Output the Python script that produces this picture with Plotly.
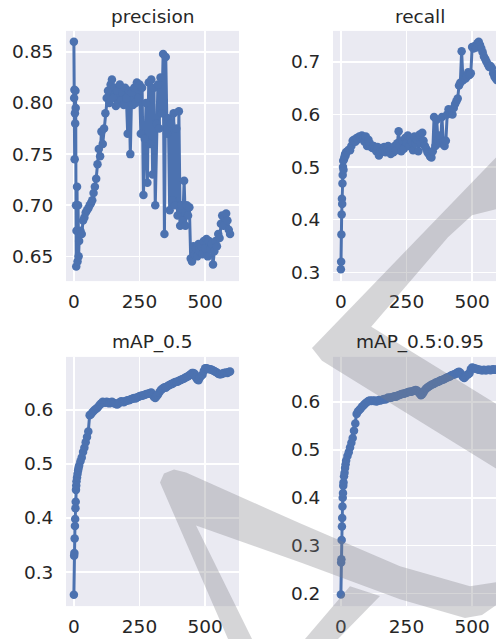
import plotly.graph_objects as go

W, H = 496, 641

epochs = [0, 1, 2, 3, 4, 5, 6, 7, 8, 9, 10, 12, 14, 16, 18, 20,
          25, 30, 35, 40, 45, 50, 55, 60, 65, 70, 75, 80, 85, 90, 95, 100,
          105, 110, 115, 120, 125, 130, 135, 140, 145, 150, 155, 160, 165, 170, 175, 180,
          185, 190, 195, 200, 205, 210, 215, 220, 225, 230, 235, 240, 245, 250, 255, 260,
          265, 270, 275, 280, 285, 290, 295, 300, 305, 310, 315, 320, 325, 330, 335, 340,
          345, 350, 355, 360, 365, 370, 375, 380, 385, 390, 395, 400, 405, 410, 415, 420,
          425, 430, 435, 440, 445, 450, 455, 460, 465, 470, 475, 480, 485, 490, 495, 500,
          505, 510, 515, 520, 525, 530, 535, 540, 545, 550, 555, 560, 565, 570, 575, 580,
          585, 590, 595]

precision = [0.860, 0.805, 0.813, 0.745, 0.790, 0.780, 0.812, 0.795, 0.700, 0.640, 0.675, 0.718, 0.645, 0.700, 0.650, 0.665,
             0.675, 0.672, 0.685, 0.688, 0.693, 0.695, 0.697, 0.700, 0.702, 0.705, 0.712, 0.718, 0.726, 0.740, 0.755, 0.748,
             0.772, 0.760, 0.775, 0.790, 0.805, 0.812, 0.800, 0.818, 0.823, 0.805, 0.815, 0.797, 0.812, 0.800, 0.818, 0.803,
             0.810, 0.798, 0.815, 0.805, 0.770, 0.812, 0.750, 0.810, 0.798, 0.815, 0.800, 0.820, 0.805, 0.818, 0.770, 0.815,
             0.710, 0.765, 0.800, 0.722, 0.820, 0.760, 0.823, 0.730, 0.815, 0.700, 0.780, 0.818, 0.775, 0.825, 0.790, 0.848,
             0.672, 0.845, 0.770, 0.785, 0.695, 0.780, 0.705, 0.790, 0.700, 0.775, 0.690, 0.792, 0.680, 0.700, 0.685, 0.724,
             0.680, 0.700, 0.690, 0.698, 0.648, 0.645, 0.660, 0.652, 0.658, 0.650, 0.662, 0.655, 0.660, 0.652, 0.665, 0.658,
             0.667, 0.650, 0.665, 0.657, 0.662, 0.642, 0.655, 0.665, 0.660, 0.672, 0.668, 0.682, 0.690, 0.680, 0.688, 0.692,
             0.685, 0.676, 0.672]

recall = [0.306, 0.320, 0.372, 0.410, 0.440, 0.430, 0.469, 0.485, 0.500, 0.512, 0.495, 0.515, 0.520, 0.525, 0.522, 0.528,
          0.530, 0.533, 0.532, 0.540, 0.550, 0.552, 0.548, 0.555, 0.553, 0.558, 0.556, 0.560, 0.555, 0.548, 0.558, 0.540,
          0.552, 0.545, 0.538, 0.536, 0.540, 0.535, 0.530, 0.538, 0.522, 0.530, 0.536, 0.532, 0.538, 0.528, 0.535, 0.540,
          0.530, 0.525, 0.535, 0.528, 0.540, 0.532, 0.545, 0.568, 0.540, 0.530, 0.550, 0.535, 0.555, 0.545, 0.560, 0.540,
          0.555, 0.548, 0.532, 0.558, 0.545, 0.552, 0.530, 0.562, 0.545, 0.565, 0.550, 0.540, 0.535, 0.528, 0.525, 0.520,
          0.518, 0.530, 0.595, 0.540, 0.590, 0.550, 0.560, 0.545, 0.595, 0.548, 0.540, 0.550, 0.600, 0.610, 0.605, 0.608,
          0.600, 0.612, 0.620, 0.625, 0.630, 0.655, 0.660, 0.720, 0.665, 0.670, 0.668, 0.672, 0.680, 0.675, 0.678, 0.728,
          0.725, 0.730, 0.727, 0.735, 0.738, 0.732, 0.725, 0.718, 0.710, 0.705, 0.700, 0.695, 0.690, 0.692, 0.688, 0.678,
          0.672, 0.668, 0.665]

map50 = [0.258, 0.330, 0.335, 0.362, 0.385, 0.398, 0.418, 0.430, 0.452, 0.460, 0.468, 0.475, 0.482, 0.488, 0.493, 0.497,
         0.505, 0.512, 0.522, 0.530, 0.540, 0.550, 0.560, 0.590, 0.592, 0.595, 0.598, 0.600, 0.602, 0.604, 0.607, 0.610,
         0.612, 0.615, 0.614, 0.613, 0.615, 0.614, 0.612, 0.613, 0.615, 0.613, 0.612, 0.611, 0.610, 0.612, 0.614, 0.616,
         0.615, 0.614, 0.616, 0.617, 0.618, 0.618, 0.619, 0.620, 0.621, 0.622, 0.621, 0.623, 0.624, 0.625, 0.626, 0.626,
         0.627, 0.628, 0.629, 0.630, 0.630, 0.631, 0.632, 0.628, 0.624, 0.622, 0.625, 0.628, 0.632, 0.636, 0.638, 0.640,
         0.642, 0.641, 0.643, 0.645, 0.646, 0.648, 0.648, 0.650, 0.651, 0.652, 0.652, 0.654, 0.655, 0.656, 0.657, 0.658,
         0.660, 0.661, 0.662, 0.664, 0.666, 0.668, 0.668, 0.667, 0.660, 0.656, 0.655, 0.660, 0.663, 0.665, 0.672, 0.677,
         0.677, 0.676, 0.675, 0.675, 0.674, 0.673, 0.672, 0.670, 0.669, 0.667, 0.666, 0.666, 0.667, 0.668, 0.668, 0.669,
         0.668, 0.670, 0.671]

map5095 = [0.198, 0.265, 0.272, 0.312, 0.340, 0.358, 0.382, 0.400, 0.410, 0.425, 0.432, 0.445, 0.452, 0.462, 0.470, 0.478,
           0.487, 0.495, 0.505, 0.515, 0.525, 0.540, 0.555, 0.575, 0.580, 0.583, 0.586, 0.590, 0.592, 0.595, 0.598, 0.600,
           0.602, 0.603, 0.602, 0.603, 0.602, 0.603, 0.601, 0.602, 0.604, 0.603, 0.604, 0.605, 0.606, 0.605, 0.607, 0.609,
           0.608, 0.609, 0.610, 0.611, 0.612, 0.611, 0.613, 0.614, 0.615, 0.616, 0.617, 0.617, 0.618, 0.619, 0.620, 0.621,
           0.621, 0.622, 0.623, 0.624, 0.625, 0.624, 0.621, 0.617, 0.614, 0.616, 0.620, 0.625, 0.628, 0.630, 0.632, 0.634,
           0.636, 0.637, 0.638, 0.640, 0.641, 0.642, 0.643, 0.645, 0.646, 0.647, 0.648, 0.650, 0.651, 0.652, 0.653, 0.655,
           0.656, 0.657, 0.658, 0.660, 0.662, 0.663, 0.661, 0.656, 0.652, 0.650, 0.653, 0.656, 0.658, 0.660, 0.668, 0.672,
           0.671, 0.670, 0.669, 0.668, 0.667, 0.667, 0.666, 0.666, 0.667, 0.666, 0.666, 0.667, 0.667, 0.666, 0.667, 0.668,
           0.667, 0.667, 0.668]

titles = ["precision", "recall", "mAP_0.5", "mAP_0.5:0.95"]
series = [precision, recall, map50, map5095]
x_ticks = [0, 250, 500]
y_ticks = [[0.65, 0.70, 0.75, 0.80, 0.85], [0.3, 0.4, 0.5, 0.6, 0.7],
           [0.3, 0.4, 0.5, 0.6], [0.2, 0.3, 0.4, 0.5, 0.6]]
y_fmt = [".2f", ".1f", ".1f", ".1f"]
y_ranges = [[0.6258, 0.8705], [0.2834, 0.7586], [0.237, 0.698], [0.174, 0.694]]

for s in series:
    assert len(s) == len(epochs)

BLUE = "#4C72B0"
TXT = "#262626"
FONT = "DejaVu Sans"
FS = 18.5

# layout geometry in pixels
col_px = [(66, 239), (333, 506)]
row_px = [(31, 282), (358, 608)]
x_full = [-30, 629]

fig = go.Figure()
layout = dict(width=W, height=H, margin=dict(l=0, r=0, t=0, b=0),
              paper_bgcolor="white", plot_bgcolor="#EAEAF2", showlegend=False,
              font=dict(family=FONT, size=FS, color=TXT))
annotations = []
for i, (title, vals) in enumerate(zip(titles, series)):
    r, c = divmod(i, 2)
    n = "" if i == 0 else str(i + 1)
    x0, x1 = col_px[c]
    y0, y1 = row_px[r]
    vis_x1 = min(x1, W)
    span = x_full[1] - x_full[0]
    xr = [x_full[0], x_full[0] + span * (vis_x1 - x0) / (x1 - x0)]
    fig.add_trace(go.Scatter(x=epochs, y=vals, mode="lines+markers",
                             line=dict(color=BLUE, width=3),
                             marker=dict(color=BLUE, size=8.5),
                             xaxis="x" + n, yaxis="y" + n, cliponaxis=True))
    layout["xaxis" + n] = dict(domain=[x0 / W, vis_x1 / W], range=xr, anchor="y" + n,
                               tickvals=x_ticks, showgrid=True, gridcolor="white", gridwidth=1.5,
                               zeroline=False, showline=False, ticks="outside", ticklen=4,
                               tickcolor="rgba(0,0,0,0)", tickfont=dict(size=FS, color=TXT))
    layout["yaxis" + n] = dict(domain=[1 - y1 / H, 1 - y0 / H], range=y_ranges[i], anchor="x" + n,
                               tickvals=y_ticks[i], tickformat=y_fmt[i], showgrid=True,
                               gridcolor="white", gridwidth=1.5, zeroline=False, showline=False,
                               ticks="outside", ticklen=8, tickcolor="rgba(0,0,0,0)",
                               tickfont=dict(size=FS, color=TXT))
    annotations.append(dict(text=title, xref="paper", yref="paper", x=(x0 + x1) / 2 / W,
                            y=1 - y0 / H, yanchor="bottom", xanchor="center", yshift=2,
                            showarrow=False, font=dict(size=FS, color=TXT, family=FONT)))
layout["annotations"] = annotations

# semi-transparent watermark overlay (pixel polygons)
watermark = [
    [(312, 349), (496, 158), (496, 210), (472, 216), (448, 238), (342, 362), (322, 362)],
    [(318, 352), (362, 322), (496, 405), (496, 470), (322, 362)],
    [(228, 641), (160, 484), (164, 475), (174, 471), (186, 474), (300, 525), (400, 568),
     (470, 588), (496, 584), (496, 607), (482, 617), (465, 620), (400, 601), (300, 564),
     (196, 527), (252, 641)],
    [(305, 641), (338, 641), (380, 598), (350, 588)],
]


def orient(poly):
    a = sum(x1 * y2 - x2 * y1 for (x1, y1), (x2, y2) in zip(poly, poly[1:] + poly[:1]))
    return poly if a > 0 else poly[::-1]


path = ""
for poly in watermark:
    p = orient(poly)
    path += "M " + " L ".join(f"{x / W:.4f},{1 - y / H:.4f}" for x, y in p) + " Z "
layout["shapes"] = [dict(type="path", path=path, xref="paper", yref="paper", layer="above",
                         fillcolor="rgba(125,125,130,0.32)", fillrule="nonzero",
                         line=dict(width=0))]

fig.update_layout(**layout)
fig.write_html("out.html", config={"displayModeBar": False, "staticPlot": True},
               post_script="document.body.style.margin='0';document.body.style.overflow='hidden';")
